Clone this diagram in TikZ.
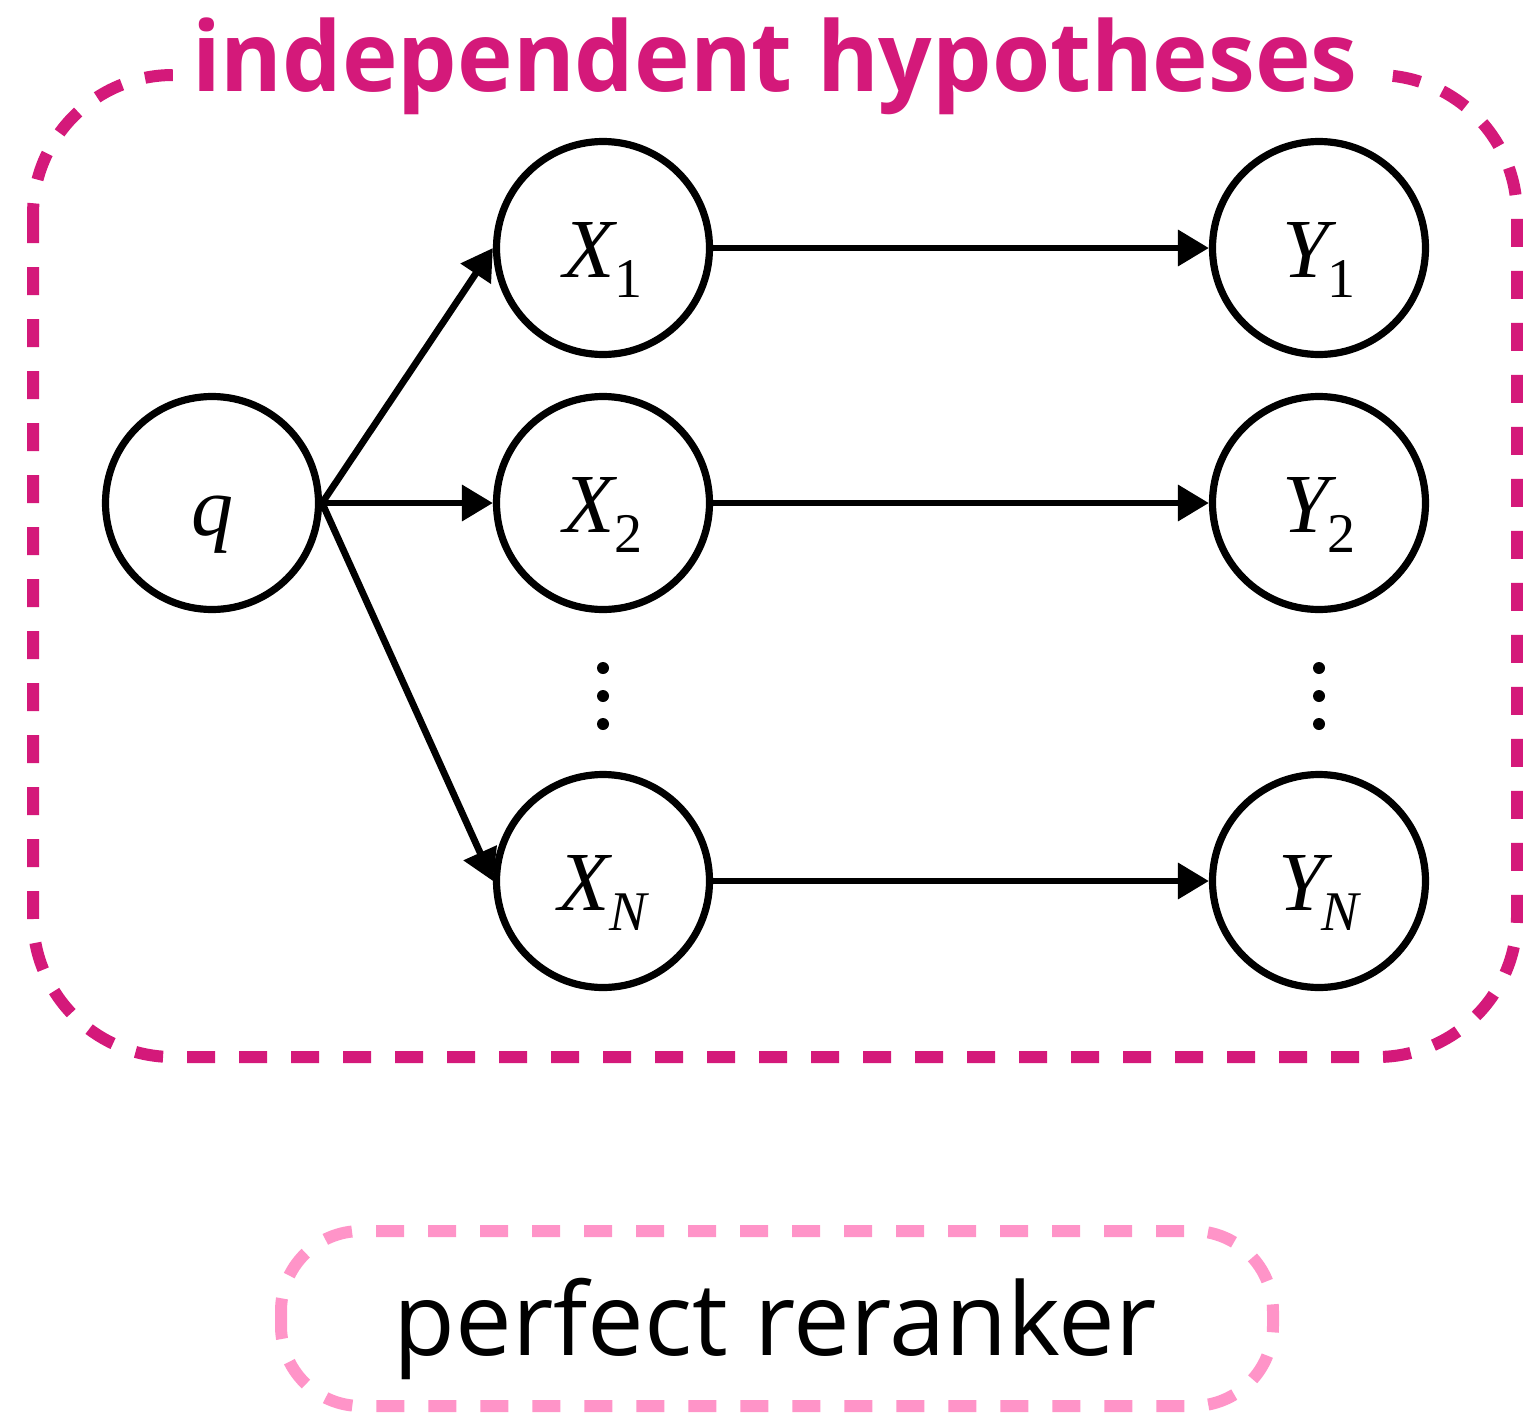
\documentclass[tikz,border=0pt]{standalone}
\usepackage{fontspec}
\setmainfont{Open Sans}
\newfontfamily\titlefont[FakeStretch=0.97]{Open Sans}
\newfontfamily\tms{Liberation Serif}
\usetikzlibrary{arrows.meta}
\definecolor{mag}{HTML}{D4197A}
\definecolor{pinkd}{HTML}{FF94C8}
\newcommand{\vlab}[3]{{\tms\itshape #1}\kern#3\raisebox{-10pt}{\fontsize{28}{28}\selectfont\tms #2}}
\begin{document}
\begin{tikzpicture}[x=0.5pt,y=-0.5pt,
  var/.style={circle,draw,line width=3.6pt,minimum size=106.5pt,inner sep=0pt,
    text height=29pt,text depth=0pt,
    font=\fontsize{42}{42}\selectfont},
  qvar/.style={var,text height=32pt},
  arr/.style={line width=3.4pt,-{Triangle[length=15.5pt,width=17.5pt]}},
  vdot/.style={circle,fill,minimum size=6pt,inner sep=0pt},
  magbox/.style={mag,line width=6pt,dash pattern=on 14pt off 12pt,rounded corners=70pt},
  pinkbox/.style={pinkd,line width=6pt,dash pattern=on 14pt off 12pt,rounded corners=40pt},
  ttl/.style={text=mag,fill=white,inner xsep=6pt,inner ysep=2pt,
    font=\titlefont\bfseries\fontsize{48.5}{48.5}\selectfont},
  btxt/.style={font=\fontsize{50.5}{50.5}\selectfont}]
\useasboundingbox (0,0) rectangle (1523,1414);
\draw[magbox] (33,75) rectangle (1517,1057);
\node[ttl,anchor=base] (title) at (775,91) {independent hypotheses};
\node[qvar] (q) at (212,503) {\tms\itshape q};
\node[var] (x1) at (603,248) {\vlab{X}{1}{0pt}};
\node[var] (x2) at (603,503) {\vlab{X}{2}{0pt}};
\node[var] (xn) at (603,881) {\vlab{X}{\itshape N}{0pt}};
\node[var] (y1) at (1319,248) {\vlab{Y}{1}{-1pt}};
\node[var] (y2) at (1319,503) {\vlab{Y}{2}{-1pt}};
\node[var] (yn) at (1319,881) {\vlab{Y}{\itshape N}{-2pt}};
\node[vdot] (dx1) at (603,668) {};
\node[vdot] (dx2) at (603,696) {};
\node[vdot] (dx3) at (603,724) {};
\node[vdot] (dy1) at (1319,668) {};
\node[vdot] (dy2) at (1319,696) {};
\node[vdot] (dy3) at (1319,724) {};
\draw[arr] (q.east) -- (x1.west);
\draw[arr] (q.east) -- (x2.west);
\draw[arr] (q.east) -- (xn.west);
\draw[arr] (x1.east) -- (y1.west);
\draw[arr] (x2.east) -- (y2.west);
\draw[arr] (xn.east) -- (yn.west);
\draw[pinkbox] (281,1231) rectangle (1273,1406);
\node[btxt,anchor=base] (rr) at (775,1355) {perfect reranker};
\end{tikzpicture}
\end{document}
